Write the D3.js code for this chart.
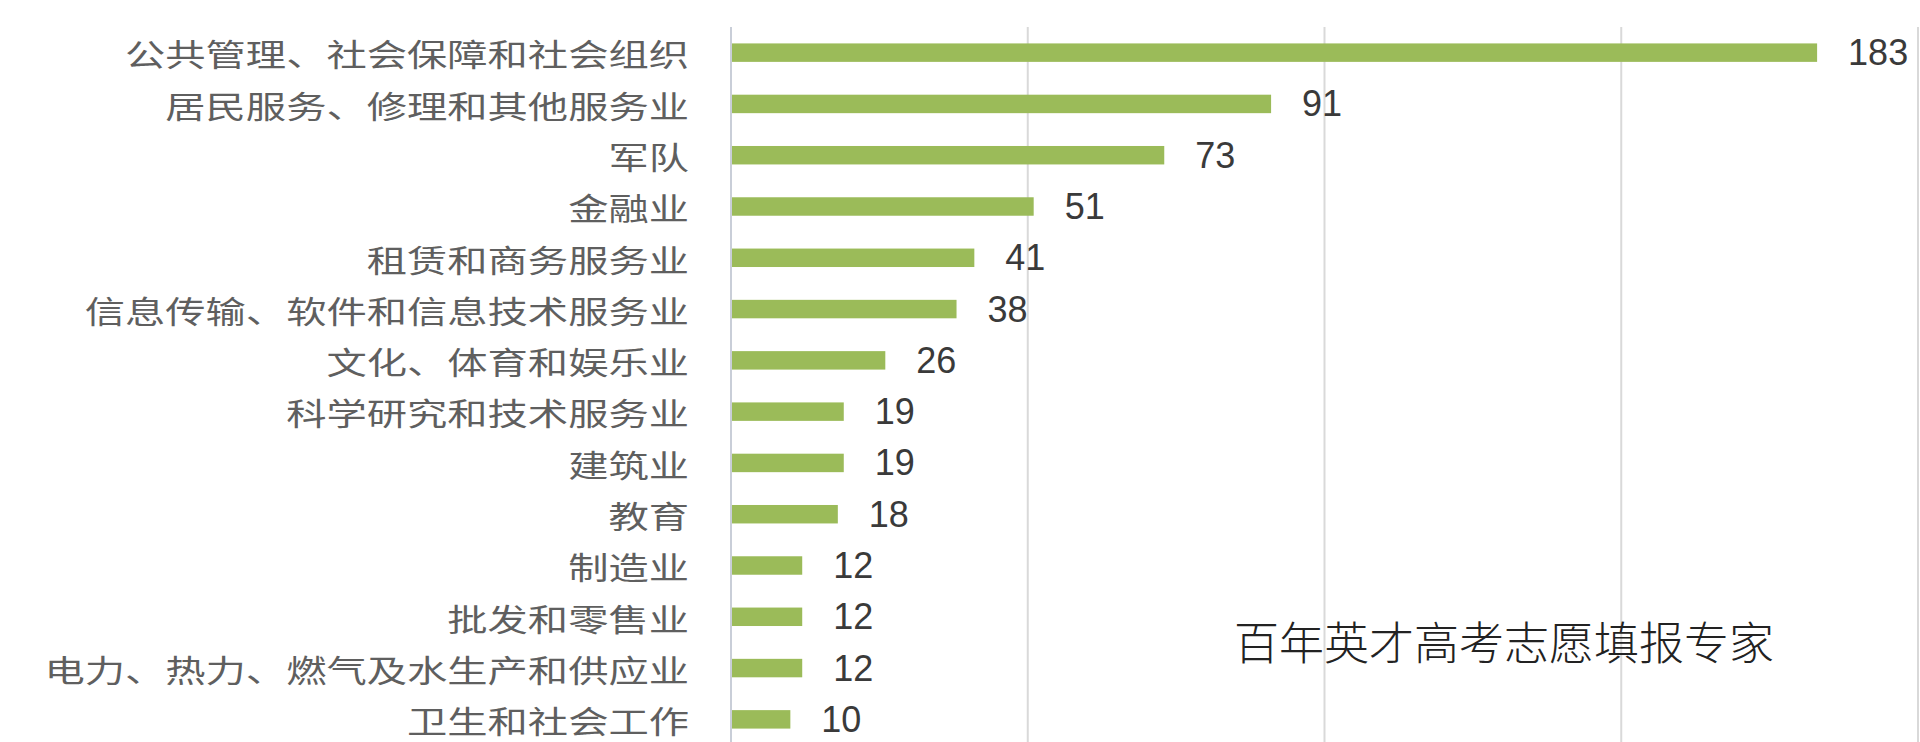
<!DOCTYPE html>
<html>
<head>
<meta charset="utf-8">
<script src="https://cdn.jsdelivr.net/npm/d3@7"></script>
<style>
html,body{margin:0;padding:0;background:#fff;}
svg{display:block;}
</style>
</head>
<body>
<svg id="chart" width="1920" height="742"></svg>
<script>
const categories = [
  "公共管理、社会保障和社会组织",
  "居民服务、修理和其他服务业",
  "军队",
  "金融业",
  "租赁和商务服务业",
  "信息传输、软件和信息技术服务业",
  "文化、体育和娱乐业",
  "科学研究和技术服务业",
  "建筑业",
  "教育",
  "制造业",
  "批发和零售业",
  "电力、热力、燃气及水生产和供应业",
  "卫生和社会工作"
];
const values = [183, 91, 73, 51, 41, 38, 26, 19, 19, 18, 12, 12, 12, 10];
const xTicks = [0, 50, 100, 150, 200];
const watermark = "百年英才高考志愿填报专家";

const svg = d3.select("#chart");
const x = d3.scaleLinear().domain([0, 200]).range([731, 1918]);
const y = d3.scaleBand().domain(categories).range([27, 745]).paddingInner(0.64).paddingOuter(0.32);

// gridlines
svg.append("g").selectAll("line").data(xTicks.slice(1)).join("line")
  .attr("x1", d => x(d)).attr("x2", d => x(d))
  .attr("y1", 27).attr("y2", 742)
  .attr("stroke", "#d9d9d9").attr("stroke-width", 2);

// bars
svg.append("g").selectAll("rect").data(values).join("rect")
  .attr("x", x(0))
  .attr("y", (d, i) => y(categories[i]))
  .attr("width", d => x(d) - x(0))
  .attr("height", y.bandwidth())
  .attr("fill", "#9bbb59");

// axis line
svg.append("line")
  .attr("x1", x(0)).attr("x2", x(0)).attr("y1", 27).attr("y2", 742)
  .attr("stroke", "#c9ced8").attr("stroke-width", 2);

// category labels
svg.append("g").selectAll("text").data(categories).join("text")
  .attr("transform", d => `translate(689,${y(d) + y.bandwidth() / 2}) scale(1.3,1)`)
  .attr("text-anchor", "end")
  .attr("dominant-baseline", "central")
  .attr("font-family", "'Noto Sans CJK SC', sans-serif")
  .attr("font-size", 31)
  .attr("fill", "#5f5f5f")
  .text(d => d);

// value labels
svg.append("g").selectAll("text").data(values).join("text")
  .attr("x", d => x(d) + 31)
  .attr("y", (d, i) => y(categories[i]) + y.bandwidth() / 2)
  .attr("dominant-baseline", "central")
  .attr("font-family", "'Liberation Sans', sans-serif")
  .attr("font-size", 36)
  .attr("fill", "#3a3a3a")
  .text(d => d);

// watermark
svg.append("text")
  .attr("x", 1234).attr("y", 640)
  .attr("dominant-baseline", "central")
  .attr("font-family", "'Noto Sans CJK SC', sans-serif")
  .attr("font-weight", 300)
  .attr("font-size", 45)
  .attr("fill", "#222")
  .text(watermark);
</script>
</body>
</html>
